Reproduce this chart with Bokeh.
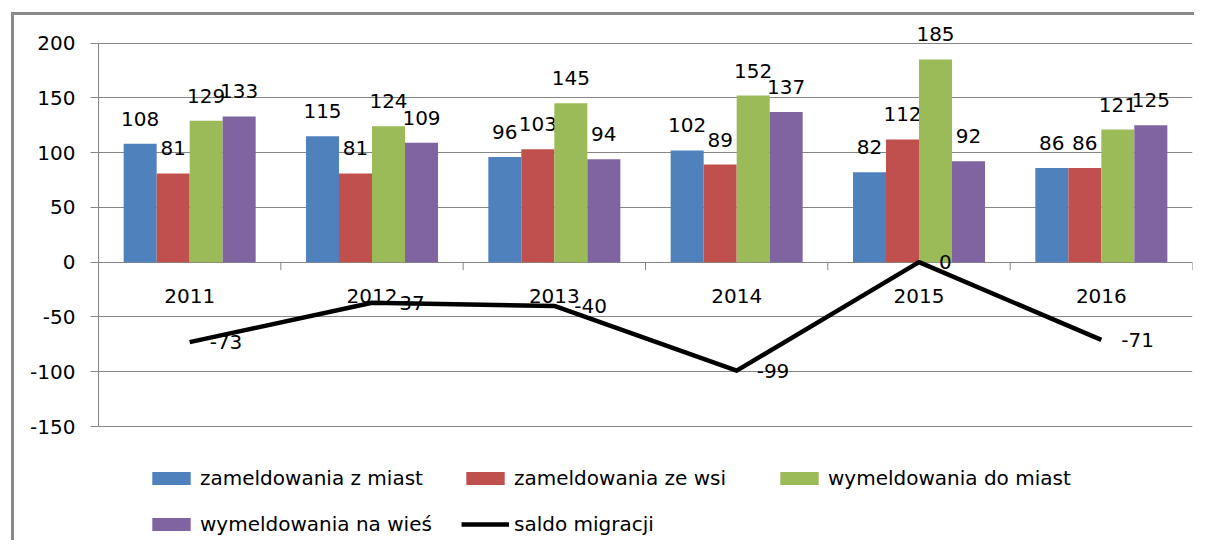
import numpy as np
from bokeh.plotting import figure
from bokeh.models import Range1d, Legend, LegendItem
from bokeh.core.properties import value
from bokeh.embed import file_html
from bokeh.resources import INLINE

# ---- data ----
years = ["2011", "2012", "2013", "2014", "2015", "2016"]
series_names = ["zameldowania z miast", "zameldowania ze wsi",
                "wymeldowania do miast", "wymeldowania na wieś"]
zam_miast = [108, 115, 96, 102, 82, 86]
zam_wies = [81, 81, 103, 89, 112, 86]
wym_miast = [129, 124, 145, 152, 185, 121]
wym_wies = [133, 109, 94, 137, 92, 125]
saldo_name = "saldo migracji"
saldo = [-73, -37, -40, -99, 0, -71]
y_ticks = [-150, -100, -50, 0, 50, 100, 150, 200]

# ---- style / layout ----
colors = ["#4F81BD", "#C0504D", "#9BBB59", "#8064A2"]
FONT = "DejaVu Sans"
FS = "20px"
GRID = "#868686"
W, H = 1183, 528
LEFT, RIGHT = 84, 5
AXIS_PX = 383.5          # pixel height of the value axis span
AXIS_TOP_PX = 27.5       # distance from canvas top to the top tick
ymin, ymax = min(y_ticks), max(y_ticks)
ppu = AXIS_PX / (ymax - ymin)
y_top = ymax + AXIS_TOP_PX / ppu
y_bot = ymin - (H - AXIS_TOP_PX - AXIS_PX) / ppu

p = figure(width=W, height=H, output_backend="svg", toolbar_location=None,
           x_range=Range1d(0, len(years)), y_range=Range1d(y_bot, y_top),
           x_axis_location=None,
           min_border_left=LEFT, min_border_right=RIGHT,
           min_border_top=0, min_border_bottom=0)
p.margin = (12, 0, 0, 11)
p.styles = {"border-left": "3px solid #898989", "border-top": "3px solid #898989"}
p.outline_line_color = None
p.background_fill_color = "white"
p.border_fill_color = "white"

p.xgrid.visible = False
p.ygrid.ticker = y_ticks
p.ygrid.grid_line_color = GRID
p.ygrid.grid_line_width = 1

ax = p.yaxis[0]
ax.ticker = y_ticks
ax.bounds = (ymin, ymax)
ax.major_label_overrides = {t: str(t) for t in y_ticks}
ax.axis_line_color = GRID
ax.major_tick_line_color = GRID
ax.major_tick_out = 8
ax.major_tick_in = 0
ax.minor_tick_line_color = None
ax.major_label_standoff = 15
ax.major_label_text_font = FONT
ax.major_label_text_font_size = FS
ax.major_label_text_color = "black"

n = len(years)
xc = np.arange(n) + 0.5
bw = 0.181
series = [zam_miast, zam_wies, wym_miast, wym_wies]
bar_renderers = []
for i, (vals, col) in enumerate(zip(series, colors)):
    xs = xc + (i - 1.5) * bw
    r = p.vbar(x=xs, top=vals, bottom=0, width=bw, fill_color=col, line_color=None)
    bar_renderers.append(r)
    p.text(x=xs, y=vals, text=[str(v) for v in vals], text_align="center",
           text_baseline="alphabetic", y_offset=-25, text_font=value(FONT),
           text_font_size=FS, text_color="black")

# category tick marks on the zero line
tick_units = 8 / ppu
bounds = np.arange(n + 1)
p.segment(x0=bounds, y0=np.zeros(n + 1), x1=bounds, y1=-tick_units * np.ones(n + 1),
          line_color=GRID, line_width=1)

# category labels below zero line
p.text(x=xc, y=np.zeros(n), text=years, text_align="center", text_baseline="alphabetic",
       y_offset=34, text_font=value(FONT), text_font_size=FS, text_color="black")

# saldo line
lr = p.line(x=xc, y=saldo, line_color="black", line_width=4.5, line_join="round")
p.text(x=xc, y=saldo, text=[str(v) for v in saldo], text_align="left",
       text_baseline="alphabetic", x_offset=20, y_offset=0, text_font=value(FONT),
       text_font_size=FS, text_color="black")

items = [LegendItem(label=nm, renderers=[r]) for nm, r in zip(series_names, bar_renderers)]
items.append(LegendItem(label=saldo_name, renderers=[lr]))
leg = Legend(items=items, location=(49, 7), orientation="horizontal", ncols=3,
             glyph_width=48, glyph_height=16, label_standoff=5, spacing=22,
             padding=0, margin=0, border_line_color=None, background_fill_alpha=0,
             label_text_font=FONT, label_text_font_size=FS, label_text_color="black",
             label_width=239, label_height=23)
p.add_layout(leg, "center")

open("out.html", "w").write(file_html(p, INLINE))
